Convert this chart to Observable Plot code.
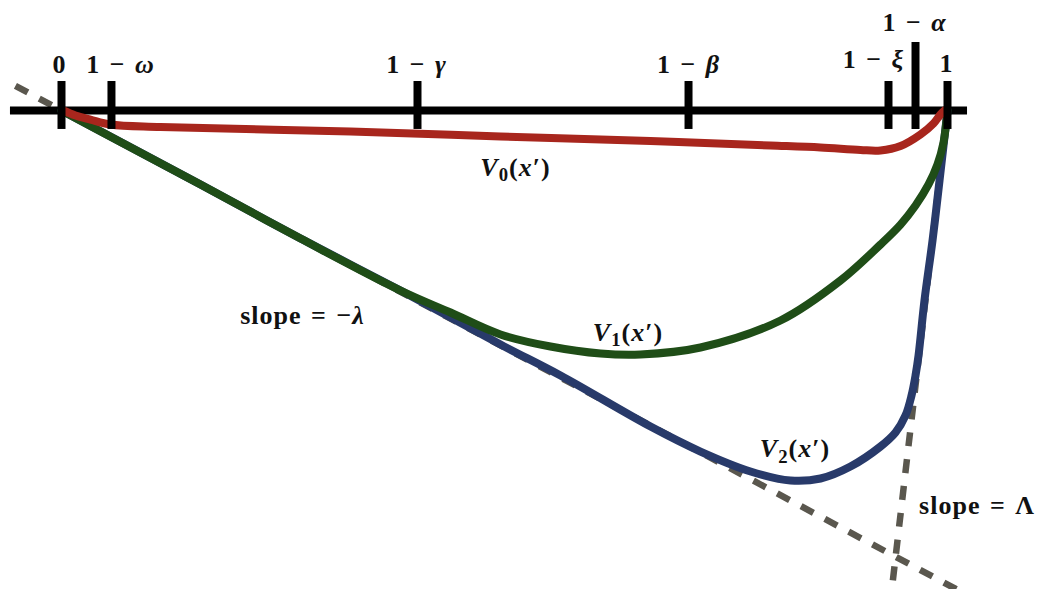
<!DOCTYPE html>
<html>
<head>
<meta charset="utf-8">
<script src="https://cdn.jsdelivr.net/npm/d3@7"></script>
<script src="https://cdn.jsdelivr.net/npm/@observablehq/plot@0.6"></script>
<style>
  html, body { margin: 0; padding: 0; background: #fff; }
  #chart svg { display: block; overflow: hidden; }
</style>
</head>
<body>
<div id="chart"></div>
<script>
// Value functions on the belief axis x' in [0, 1]
const v0X = [0.002, 0.0158, 0.0327, 0.0553, 0.1117, 0.3262, 0.4955, 0.6648, 0.8002, 0.8566, 0.9018, 0.9244, 0.9470, 0.9695, 0.9842, 0.9921, 0.9966];
const v0Y = [0, -0.0056, -0.0102, -0.0158, -0.0186, -0.0237, -0.0293, -0.0344, -0.0395, -0.0418, -0.0446, -0.0451, -0.0401, -0.0271, -0.0147, -0.0045, 0];

const v1X = [0, 0.0666, 0.1569, 0.2698, 0.3826, 0.4391, 0.4955, 0.5519, 0.6084, 0.6535, 0.7212, 0.8115, 0.8792, 0.9244, 0.9470, 0.9639, 0.9786, 0.9887, 0.9955, 1];
const v1Y = [0, -0.0356, -0.0835, -0.1445, -0.2032, -0.2280, -0.2528, -0.2664, -0.2743, -0.2754, -0.2675, -0.2370, -0.1919, -0.1512, -0.1287, -0.1072, -0.0835, -0.0609, -0.0361, 0];

const v2X = [0, 0.1569, 0.2698, 0.3826, 0.4955, 0.5632, 0.6648, 0.7212, 0.7777, 0.8228, 0.8567, 0.8905, 0.9244, 0.9413, 0.9526, 0.9594, 0.9639, 0.9673, 0.9740, 0.9831, 0.9910, 1];
const v2Y = [0, -0.0835, -0.1445, -0.2032, -0.2641, -0.2991, -0.3567, -0.3849, -0.4074, -0.4176, -0.4153, -0.4018, -0.3792, -0.3634, -0.3442, -0.3217, -0.2991, -0.2765, -0.2144, -0.1467, -0.0790, 0];

// Thresholds marked on the axis
const tickNames = ["0", "1 − ω", "1 − γ", "1 − β", "1 − ξ", "1 − α", "1"];
const tickAt = [0, 0.0564, 0.4018, 0.7077, 0.9334, 0.9639, 1];

// Asymptotic slopes: -λ from the origin, Λ into x' = 1
const lambda = 0.535;
const bigLambda = 8.6;

// Curve and slope annotations
const curveNames = ["V0(x′)", "V1(x′)", "V2(x′)"];
const curveLabelX = [0.5124, 0.6394, 0.8279];
const curveLabelY = [-0.0734, -0.2596, -0.3916];
const slopeNames = ["slope = −λ", "slope = Λ"];
const slopeLabelX = [0.2720, 1.0333];
const slopeLabelY = [-0.2404, -0.4549];

// ---- build tables ----
const toPoints = (xs, ys) => xs.map((x, i) => ({x, y: ys[i]}));
const V0 = toPoints(v0X, v0Y);
const V1 = toPoints(v1X, v1Y);
const V2 = toPoints(v2X, v2Y);

const lambdaLine = [-0.052, 1.03].map(x => ({x, y: -lambda * x}));
const bigLambdaLine = [1, 0.93].map(x => ({x, y: bigLambda * (x - 1)}));

const ticks = tickAt.map((x, i) => ({x, name: tickNames[i], tall: tickNames[i] === "1 − α"}));
const curveLabels = curveNames.map((t, i) => ({t, x: curveLabelX[i], y: curveLabelY[i]}));
const slopeLabels = slopeNames.map((t, i) => ({t, x: slopeLabelX[i], y: slopeLabelY[i]}));

// ---- styling ----
const W = 1045, H = 589;
const FONT = "Liberation Serif";
const FS = 26;
const dashColor = "#5a574e";
const tickTop = 0.0327, tickBottom = -0.0214, tallTop = 0.0767;

// label nudges [dx, dy] in pixels relative to the tick top
const tickLabelNudge = {
  "0": [-2, -9], "1 − ω": [9, -9], "1 − γ": [-1, -9], "1 − β": [0, -9],
  "1 − ξ": [-15, -14], "1 − α": [-1, -12], "1": [-1, -10]
};

const textStyle = {fontFamily: FONT, fontSize: FS, fontWeight: "bold", fill: "#111", lineAnchor: "bottom"};

const plot = Plot.plot({
  width: W,
  height: H,
  margin: 0,
  x: {domain: [0, 1], range: [61, 947], axis: null},
  y: {domain: [0, -0.5406], range: [110, 589], axis: null},
  marks: [
    Plot.line(lambdaLine, {x: "x", y: "y", stroke: dashColor, strokeWidth: 6.5, strokeDasharray: "14,13", strokeLinecap: "butt", clip: true}),
    Plot.line(bigLambdaLine, {x: "x", y: "y", stroke: dashColor, strokeWidth: 6.5, strokeDasharray: "14,13", strokeLinecap: "butt", clip: true}),
    Plot.ruleY([0], {x1: -0.0576, x2: 1.0226, stroke: "#000", strokeWidth: 8}),
    Plot.line(V2, {x: "x", y: "y", stroke: "#283a6a", strokeWidth: 8, curve: "catmull-rom"}),
    Plot.line(V1, {x: "x", y: "y", stroke: "#1f4d17", strokeWidth: 8, curve: "catmull-rom"}),
    Plot.line(V0, {x: "x", y: "y", stroke: "#a8261d", strokeWidth: 8, curve: "catmull-rom"}),
    Plot.ruleX(ticks, {x: "x", y1: d => d.tall ? tallTop : tickTop, y2: tickBottom, stroke: "#000", strokeWidth: 8}),
    ...ticks.map(d => Plot.text([d], {
      x: "x", y: d.tall ? tallTop : tickTop, text: "name",
      dx: tickLabelNudge[d.name][0], dy: tickLabelNudge[d.name][1], ...textStyle
    })),
    Plot.text(curveLabels, {x: "x", y: "y", text: "t", ...textStyle}),
    Plot.text(slopeLabels, {x: "x", y: "y", text: "t", ...textStyle})
  ]
});

// Math-style typesetting: italic Latin/Greek letters, upright Greek capitals, subscripts
function richify(el, size) {
  const s = el.textContent;
  const tokens = s.match(/slope|[A-Za-z\u0370-\u03FF]|\d|[^A-Za-z\u0370-\u03FF\d]+/g) || [];
  el.textContent = "";
  el.setAttribute("letter-spacing", "1");
  el.setAttribute("word-spacing", "2");
  let prevLetter = false, shift = 0;
  for (const t of tokens) {
    const ts = document.createElementNS("http://www.w3.org/2000/svg", "tspan");
    ts.textContent = t;
    const isLetter = /^[A-Za-z\u0370-\u03FF]$/.test(t);
    if (isLetter && !/^[\u0391-\u03A9]$/.test(t)) ts.setAttribute("font-style", "italic");
    if (/^\d$/.test(t) && prevLetter) {
      shift = size * 0.22;
      ts.setAttribute("font-size", size * 0.72);
      ts.setAttribute("dy", shift);
    } else if (shift) {
      ts.setAttribute("dy", -shift);
      shift = 0;
    }
    el.appendChild(ts);
    prevLetter = isLetter;
  }
}
d3.select(plot).selectAll("text").each(function () { richify(this, FS); });

document.getElementById("chart").appendChild(plot);
</script>
</body>
</html>
